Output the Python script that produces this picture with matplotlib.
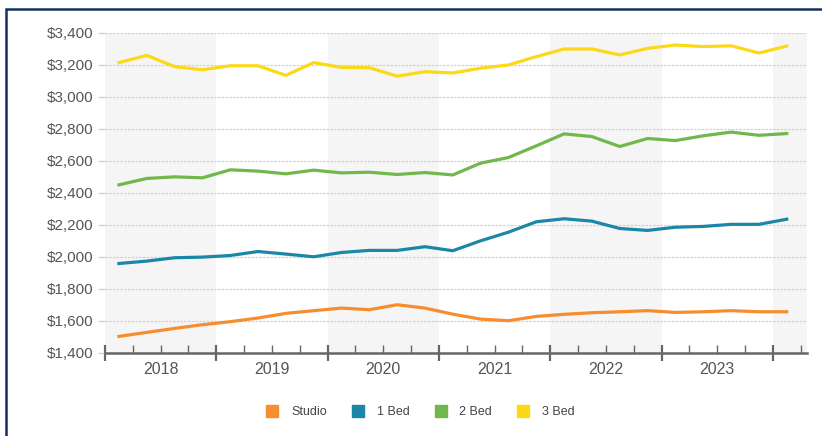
import matplotlib.pyplot as plt
from matplotlib.lines import Line2D
from matplotlib.patches import Rectangle
import numpy as np

plt.rcParams['font.family'] = ['Liberation Sans', 'DejaVu Sans']

# quarterly rents, 2018 Q1 .. 2024 Q1
years = [2018, 2019, 2020, 2021, 2022, 2023]
studio = [1502, 1527, 1552, 1575, 1594, 1617, 1646, 1663, 1679, 1669, 1700, 1679, 1641,
          1610, 1600, 1627, 1640, 1650, 1656, 1663, 1652, 1656, 1663, 1656, 1656]
bed1 = [1958, 1973, 1994, 1998, 2008, 2033, 2017, 2000, 2027, 2040, 2040, 2063, 2038,
        2100, 2154, 2219, 2238, 2223, 2177, 2165, 2185, 2190, 2203, 2203, 2235]
bed2 = [2450, 2490, 2500, 2494, 2544, 2536, 2519, 2542, 2525, 2529, 2515, 2527, 2512,
        2586, 2621, 2694, 2769, 2752, 2690, 2740, 2727, 2757, 2780, 2760, 2771]
bed3 = [3215, 3260, 3190, 3170, 3195, 3195, 3135, 3215, 3185, 3183, 3130, 3158, 3150,
        3180, 3200, 3252, 3300, 3300, 3263, 3304, 3325, 3315, 3320, 3275, 3318]
series_names = ['Studio', '1 Bed', '2 Bed', '3 Bed']
colors = ['#f68d2e', '#1b87a8', '#71b84c', '#fcd917']

x = 2018 + (np.arange(len(studio)) + 0.5) / 4

fig = plt.figure(figsize=(8.22, 4.36), dpi=100)
ax = fig.add_axes([105 / 822, 1 - 352.7 / 436, 702 / 822, 319.7 / 436])

# outer navy frame (runs off the right and bottom edges)
fig.patches.append(Rectangle((6 / 822, -0.1), 1.2, 1 - 9 / 436 + 0.1, transform=fig.transFigure,
                             fill=False, edgecolor='#14305e', linewidth=1.8))

xmax = 2018 + 702 / 111.3
# alternating year bands
for yr in range(2018, 2025, 2):
    ax.axvspan(yr, min(yr + 1, xmax), color='#f5f5f5', zorder=0, lw=0)

for vals, c in zip([studio, bed1, bed2, bed3], colors):
    ax.plot(x, vals, color=c, lw=2.3, solid_joinstyle='round', zorder=3)

ax.set_xlim(2018, xmax)
ax.set_ylim(1400, 3400)
ax.set_yticks(np.arange(1400, 3401, 200))
ax.set_yticklabels(['${:,}'.format(v) for v in range(1400, 3401, 200)])
ax.yaxis.grid(True, color='#d2d2d2', linestyle=(0, (2, 1)), lw=0.9)
ax.set_axisbelow(True)

# year boundaries as major ticks, quarters as minor ticks
ax.set_xticks(range(2018, 2025))
ax.set_xticklabels([])
ax.set_xticks(np.arange(2018.25, xmax, 0.25), minor=True)
for y in years:
    ax.text(y + 0.5, -0.053, str(y), ha='center', va='center', fontsize=11.5, color='#555555',
            transform=ax.get_xaxis_transform())
ax.tick_params(axis='x', which='major', direction='inout', length=12, width=1.6, color='#666666')
ax.tick_params(axis='x', which='minor', direction='in', length=6, width=1, color='#666666')
ax.tick_params(axis='y', length=5, width=0.9, color='#cfcfcf', labelsize=11, labelcolor='#555555', pad=3)

for s in ['top', 'right', 'left']:
    ax.spines[s].set_visible(False)
ax.spines['bottom'].set_color('#666666')
ax.spines['bottom'].set_linewidth(1.8)

handles = [Line2D([], [], marker='s', linestyle='none', markersize=8, color=c) for c in colors]
fig.legend(handles, series_names, loc='center', bbox_to_anchor=(421 / 822, 1 - 412 / 436), ncol=4,
           frameon=False, fontsize=9, handlelength=0.8, handletextpad=1.1, columnspacing=2.1,
           labelcolor='#444444')

fig.savefig('out.png', dpi=100)
